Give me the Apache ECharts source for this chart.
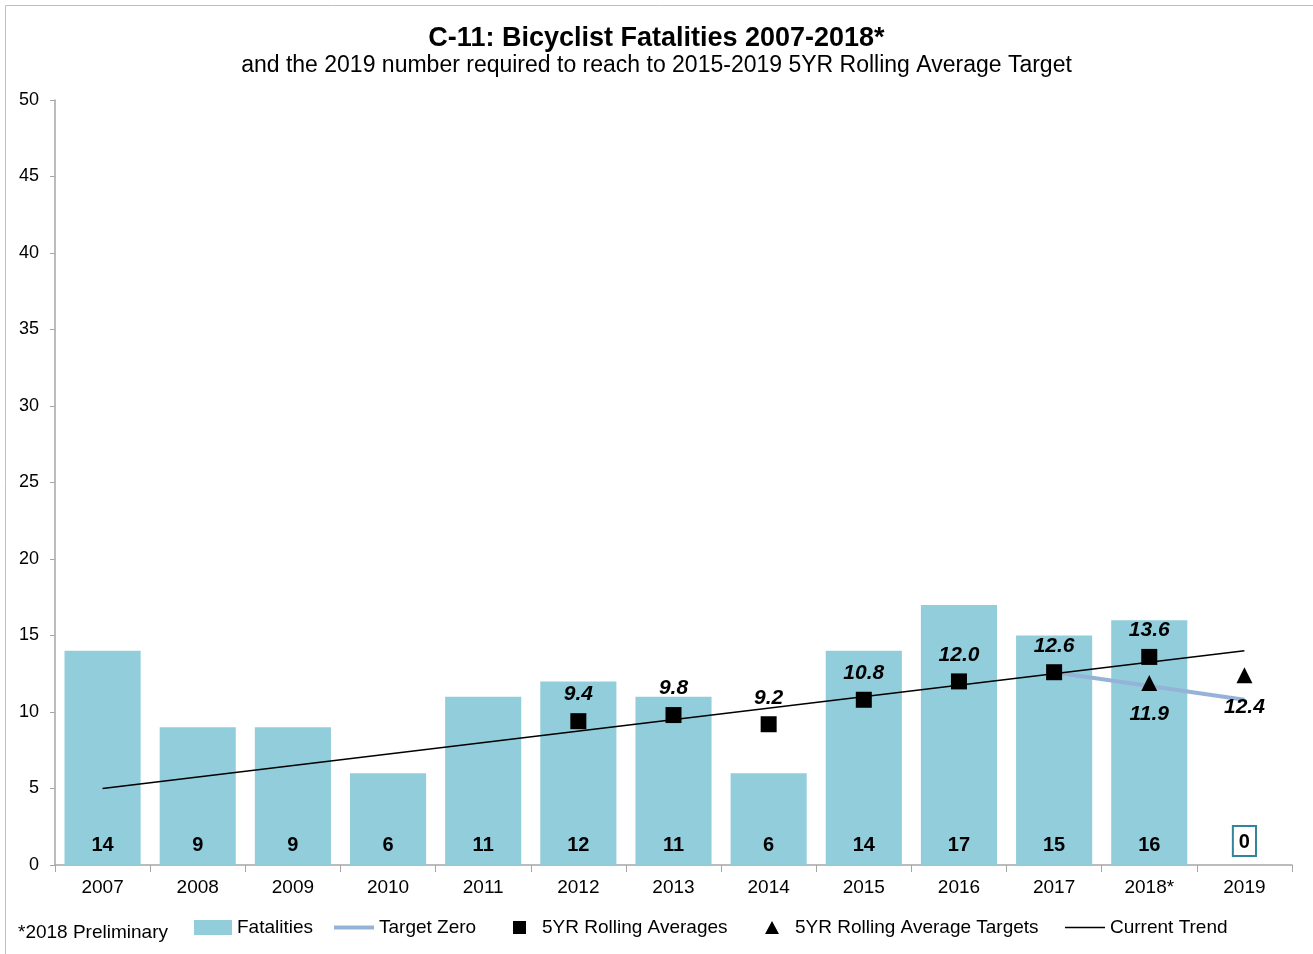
<!DOCTYPE html>
<html>
<head>
  <meta charset="utf-8"/>
  <title>C-11: Bicyclist Fatalities 2007-2018*</title>
  <style>
    html, body { margin: 0; padding: 0; background: #fff; }
    #chart { width: 1313px; height: 954px; }
  </style>
</head>
<body>
<div id="chart"></div>
<script src="https://cdn.jsdelivr.net/npm/echarts@6/dist/echarts.min.js"></script>
<script type="text/javascript">
var years = ['2007', '2008', '2009', '2010', '2011', '2012', '2013', '2014', '2015', '2016', '2017', '2018*', '2019'];
var fatalities = [14, 9, 9, 6, 11, 12, 11, 6, 14, 17, 15, 16, 0];
var rollingAvg = [null, null, null, null, null, 9.4, 9.8, 9.2, 10.8, 12.0, 12.6, 13.6, null];
var rollingTargets = [null, null, null, null, null, null, null, null, null, null, null, 11.9, 12.4];
var targetZero = [null, null, null, null, null, null, null, null, null, null, 12.6, 11.7, 10.8];
var currentTrend = [5.0, null, null, null, null, null, null, null, null, null, null, null, 14.0];

var font = '"Liberation Sans", Arial, sans-serif';
var chart = echarts.init(document.getElementById('chart'));

function legendAt(left, name, icon, w, h, gap) {
  return {
    left: left, top: 918, padding: 0, itemWidth: w, itemHeight: h, itemGap: 0,
    icon: icon, selectedMode: false,
    textStyle: { fontFamily: font, fontSize: 19, color: '#000', padding: [0, 0, 0, gap] },
    data: [name]
  };
}

function oneDecimal(p) {
  var v = Array.isArray(p.value) ? p.value[1] : p.value;
  return Number(v).toFixed(1);
}

chart.setOption({
  animation: false,
  title: [{
    text: 'C-11: Bicyclist Fatalities 2007-2018*',
    left: 'center', top: 20,
    textStyle: { fontFamily: font, fontSize: 27, fontWeight: 'bold', color: '#000' }
  }, {
    text: 'and the 2019 number required to reach to 2015-2019 5YR Rolling Average Target',
    left: 'center', top: 49,
    textStyle: { fontFamily: font, fontSize: 23, fontWeight: 'normal', color: '#000' }
  }],
  graphic: [{
    type: 'rect', shape: { x: 5.5, y: 5.5, width: 1400, height: 1000 },
    style: { fill: 'none', stroke: '#bfbfbf', lineWidth: 1 }, silent: true
  }, {
    type: 'text', left: 18, top: 923,
    style: { text: '*2018 Preliminary', font: '19px ' + font, fill: '#000' }
  }],
  legend: [
    legendAt(194, 'Fatalities', 'rect', 38, 15, 0),
    legendAt(334, 'Target Zero', 'path://M0,0 L40,0 L40,4 L0,4 Z', 40, 4, 0),
    legendAt(513, '5YR Rolling Averages', 'rect', 13, 13, 11),
    legendAt(765, '5YR Rolling Average Targets', 'triangle', 14, 13, 11),
    legendAt(1065, 'Current Trend', 'path://M0,0 L40,0 L40,1.5 L0,1.5 Z', 40, 2, 0)
  ],
  grid: { left: 55, right: 21, top: 100, bottom: 89 },
  xAxis: {
    type: 'category', data: years,
    axisLine: { lineStyle: { color: '#a6a6a6', width: 1.5 } },
    axisTick: { show: true, length: 7, lineStyle: { color: '#a6a6a6' } },
    axisLabel: { fontFamily: font, fontSize: 19, color: '#000', margin: 13 }
  },
  yAxis: {
    type: 'value', min: 0, max: 50, interval: 5,
    splitLine: { show: false },
    axisLine: { show: true, lineStyle: { color: '#a6a6a6', width: 1.5 } },
    axisTick: { show: true, length: 5, lineStyle: { color: '#a6a6a6' } },
    axisLabel: { fontFamily: font, fontSize: 18, color: '#000', margin: 16 }
  },
  series: [{
    name: 'Fatalities', type: 'bar', data: fatalities, barCategoryGap: '20%',
    itemStyle: { color: '#92cddc' },
    label: {
      show: true, position: 'insideBottom', distance: 10,
      fontFamily: font, fontSize: 20, fontWeight: 'bold', color: '#000',
      formatter: function (p) {
        return p.value === 0 ? '{box|0}' : String(p.value);
      },
      rich: {
        box: {
          fontFamily: font, fontSize: 20, fontWeight: 'bold', color: '#000',
          borderColor: '#31859c', borderWidth: 2, padding: [5, 5, 3, 5],
          backgroundColor: '#fff'
        }
      }
    },
    z: 1
  }, {
    name: 'Target Zero', type: 'line', data: targetZero, symbol: 'none',
    lineStyle: { color: '#95b3d7', width: 4 }, itemStyle: { color: '#95b3d7' }, z: 2
  }, {
    name: 'Current Trend', type: 'line', data: currentTrend, connectNulls: true,
    symbol: 'none', lineStyle: { color: '#000', width: 1.5 }, itemStyle: { color: '#000' }, z: 3
  }, {
    name: '5YR Rolling Averages', type: 'scatter', data: rollingAvg,
    symbol: 'rect', symbolSize: 16, itemStyle: { color: '#000', opacity: 1 },
    label: {
      show: true, position: 'top', distance: 8,
      fontFamily: font, fontSize: 21, fontWeight: 'bold', fontStyle: 'italic', color: '#000',
      formatter: oneDecimal
    },
    z: 4
  }, {
    name: '5YR Rolling Average Targets', type: 'scatter', data: rollingTargets,
    symbol: 'triangle', symbolSize: 16, itemStyle: { color: '#000', opacity: 1 },
    label: {
      show: true, position: 'bottom', distance: 13,
      fontFamily: font, fontSize: 21, fontWeight: 'bold', fontStyle: 'italic', color: '#000',
      formatter: oneDecimal
    },
    z: 4
  }]
});
</script>
</body>
</html>
